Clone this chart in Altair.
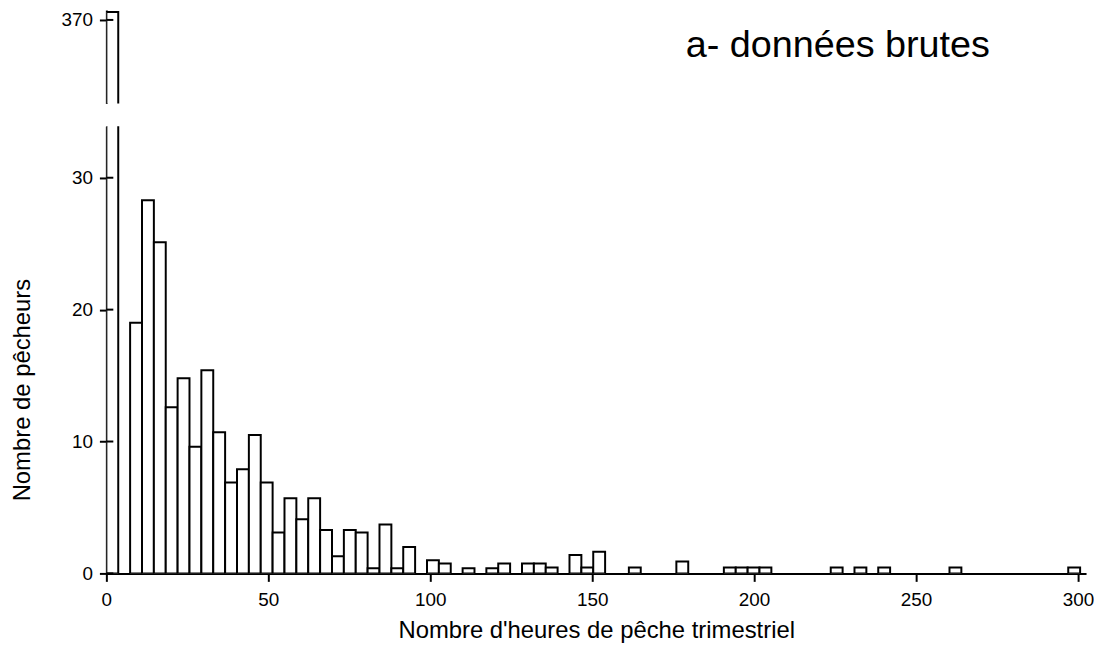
import altair as alt
import pandas as pd

# ---- data (bins of 11/3 hours) ----
BIN_WIDTH = 11 / 3
bin_index = [0, 2, 3, 4, 5, 6, 7, 8, 9, 10, 11, 12, 13, 14, 15, 16, 17, 18, 19, 20,
             21, 22, 23, 24, 25, 27, 28, 30, 32, 33, 35, 36, 37, 39, 40, 41, 44, 48,
             52, 53, 54, 55, 61, 63, 65, 71, 81]
fishers = [370.6, 19.0, 28.3, 25.1, 12.6, 14.8, 9.6, 15.4, 10.7, 6.9, 7.9, 10.5, 6.9,
           3.1, 5.7, 4.1, 5.7, 3.3, 1.3, 3.3, 3.1, 0.4, 3.7, 0.4, 2.0, 1.0, 0.75, 0.4,
           0.4, 0.75, 0.75, 0.75, 0.45, 1.4, 0.45, 1.65, 0.45, 0.9, 0.45, 0.45, 0.45,
           0.45, 0.45, 0.45, 0.45, 0.45, 0.45]
x_ticks = [0, 50, 100, 150, 200, 250, 300]
y_ticks_low = [0, 10, 20, 30]
y_ticks_high = [370]
panel_title = ["a- données brutes"]
x_title = "Nombre d'heures de pêche trimestriel"
y_title = "Nombre de pêcheurs"

FONT = "Liberation Sans"

df = pd.DataFrame({"bin": bin_index, "n": fishers})
df["x0"] = df["bin"] * BIN_WIDTH
df["x1"] = (df["bin"] + 1) * BIN_WIDTH

X_DOMAIN = [0, 302.5]
W = 986
H_LOW = 450
H_HIGH = 94
LOW_DOMAIN = [0, 33.9]
HIGH_DOMAIN = [363.67, 370.75]

x_scale = alt.Scale(domain=X_DOMAIN, nice=False, zero=False)

rect_style = dict(fill="white", stroke="black", strokeWidth=2, clip=True)

low_axis = alt.Axis(values=y_ticks_low, title=y_title, tickSize=7, labelPadding=7,
                    titleX=-84, titleY=265, titleBaseline="middle")
high_axis = alt.Axis(values=y_ticks_high, title=None, tickSize=7, labelPadding=7)

# ---- bottom panel (0 - 34) ----
bars_low = alt.Chart(df).mark_rect(**rect_style).encode(
    x=alt.X("x0:Q", scale=x_scale,
            axis=alt.Axis(values=x_ticks, title=x_title, tickSize=8, labelPadding=9,
                          titlePadding=10, labelFlush=False)),
    x2="x1",
    y=alt.Y("n:Q", scale=alt.Scale(domain=LOW_DOMAIN, nice=False), axis=low_axis),
    y2=alt.datum(0),
)
inner_low = alt.Chart(pd.DataFrame({"n": y_ticks_low})).mark_rule(
    color="black", strokeWidth=2).encode(
    y=alt.Y("n:Q", axis=low_axis), x=alt.value(0), x2=alt.value(7))
low = alt.layer(bars_low, inner_low).properties(width=W, height=H_LOW)

# ---- top panel (around 370) ----
bars_high = alt.Chart(df[df["bin"] == 0]).mark_rect(**rect_style).encode(
    x=alt.X("x0:Q", scale=x_scale, axis=None),
    x2="x1",
    y=alt.Y("n:Q", scale=alt.Scale(domain=HIGH_DOMAIN, nice=False, zero=False),
            axis=high_axis),
    y2=alt.datum(0),
)
inner_high = alt.Chart(pd.DataFrame({"n": y_ticks_high})).mark_rule(
    color="black", strokeWidth=2).encode(
    y=alt.Y("n:Q", axis=high_axis), x=alt.value(0), x2=alt.value(7))
label = alt.Chart(pd.DataFrame({"txt": panel_title})).mark_text(
    font=FONT, fontSize=38, align="left", baseline="alphabetic", color="black").encode(
    text="txt:N", x=alt.value(583), y=alt.value(47))
high = alt.layer(bars_high, inner_high, label).properties(width=W, height=H_HIGH)

chart = alt.vconcat(high, low, spacing=23, bounds="flush").properties(
    padding={"left": 3, "top": 0, "right": 0, "bottom": 0}
).configure_view(stroke=None).configure_axis(
    grid=False, domainColor="black", domainWidth=2, tickColor="black", tickWidth=2,
    labelColor="black", titleColor="black", labelFont=FONT, titleFont=FONT,
    labelFontSize=19, titleFontSize=24, titleFontWeight="normal"
)

chart.save("out.html", embed_options={"renderer": "svg", "actions": False})
